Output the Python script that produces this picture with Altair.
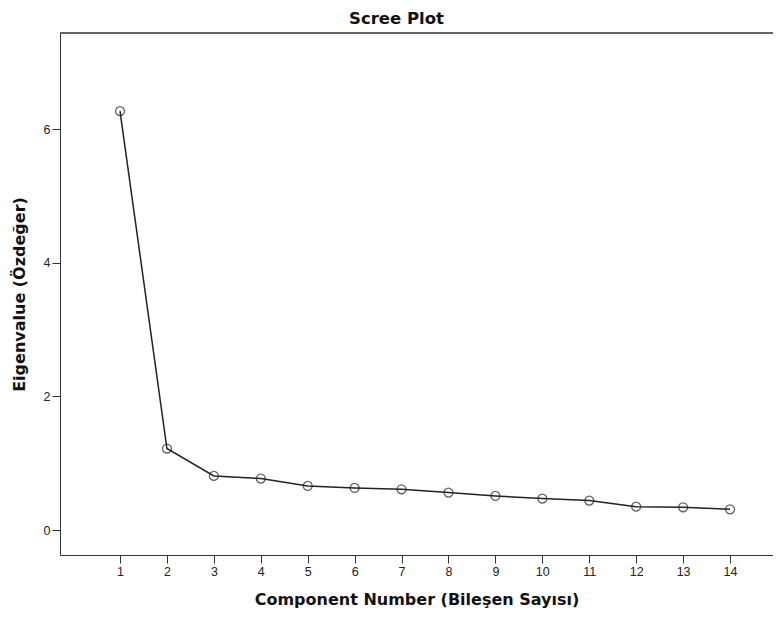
import altair as alt
import pandas as pd

components = list(range(1, 15))
eigenvalues = [6.27, 1.22, 0.81, 0.77, 0.66, 0.63, 0.61, 0.56, 0.51, 0.47, 0.44, 0.35, 0.34, 0.31]
x_ticks = list(range(1, 15))
y_ticks = [0, 2, 4, 6]

df = pd.DataFrame({"component": components, "eigenvalue": eigenvalues})

FONT = "Liberation Sans"
TFONT = "DejaVu Sans"
W, H = 713, 522

x_enc = alt.X(
    "component:Q",
    scale=alt.Scale(domain=[-0.279, 14.916], nice=False, zero=False),
    axis=alt.Axis(
        values=x_ticks, title="Component Number (Bileşen Sayısı)", grid=False,
        tickSize=8, tickColor="#333", domainColor="#333", labelColor="#222",
        labelFont=FONT, labelFontSize=12.5, titleFont=TFONT, titleFontSize=16,
        titleFontWeight="bold", titleColor="#111", titlePadding=14, labelPadding=2,
    ),
)
y_enc = alt.Y(
    "eigenvalue:Q",
    scale=alt.Scale(domain=[-0.374, 7.44], nice=False, zero=False),
    axis=alt.Axis(
        values=y_ticks, title="Eigenvalue (Özdeğer)", grid=False,
        tickSize=8, tickColor="#333", domainColor="#333", labelColor="#222",
        labelFont=FONT, labelFontSize=12.5, titleFont=TFONT, titleFontSize=16,
        titleFontWeight="bold", titleColor="#111", titlePadding=16, labelPadding=2,
    ),
)

line = alt.Chart(df).mark_line(color="#222", strokeWidth=1.5).encode(x=x_enc, y=y_enc)
pts = alt.Chart(df).mark_point(
    shape="circle", size=80, filled=False, color="#222", strokeWidth=1.3
).encode(x=x_enc, y=y_enc)
top_border = alt.Chart(df).mark_rule(color="#666", strokeWidth=1.5).encode(
    x=alt.value(0), x2=alt.value(W), y=alt.value(0)
)

chart = (
    alt.layer(line, pts, top_border)
    .properties(
        width=W,
        height=H,
        title=alt.TitleParams(
            "Scree Plot", font=TFONT, fontSize=16.5, fontWeight="bold", color="#111",
            anchor="middle", dx=-20, offset=5,
        ),
        autosize=alt.AutoSizeParams(type="none"),
        padding={"left": 52, "top": 25, "right": 0, "bottom": 56},
    )
    .configure_view(strokeWidth=0)
    .configure(background="white")
)

chart.save("out.html", embed_options={"renderer": "svg", "actions": False})
